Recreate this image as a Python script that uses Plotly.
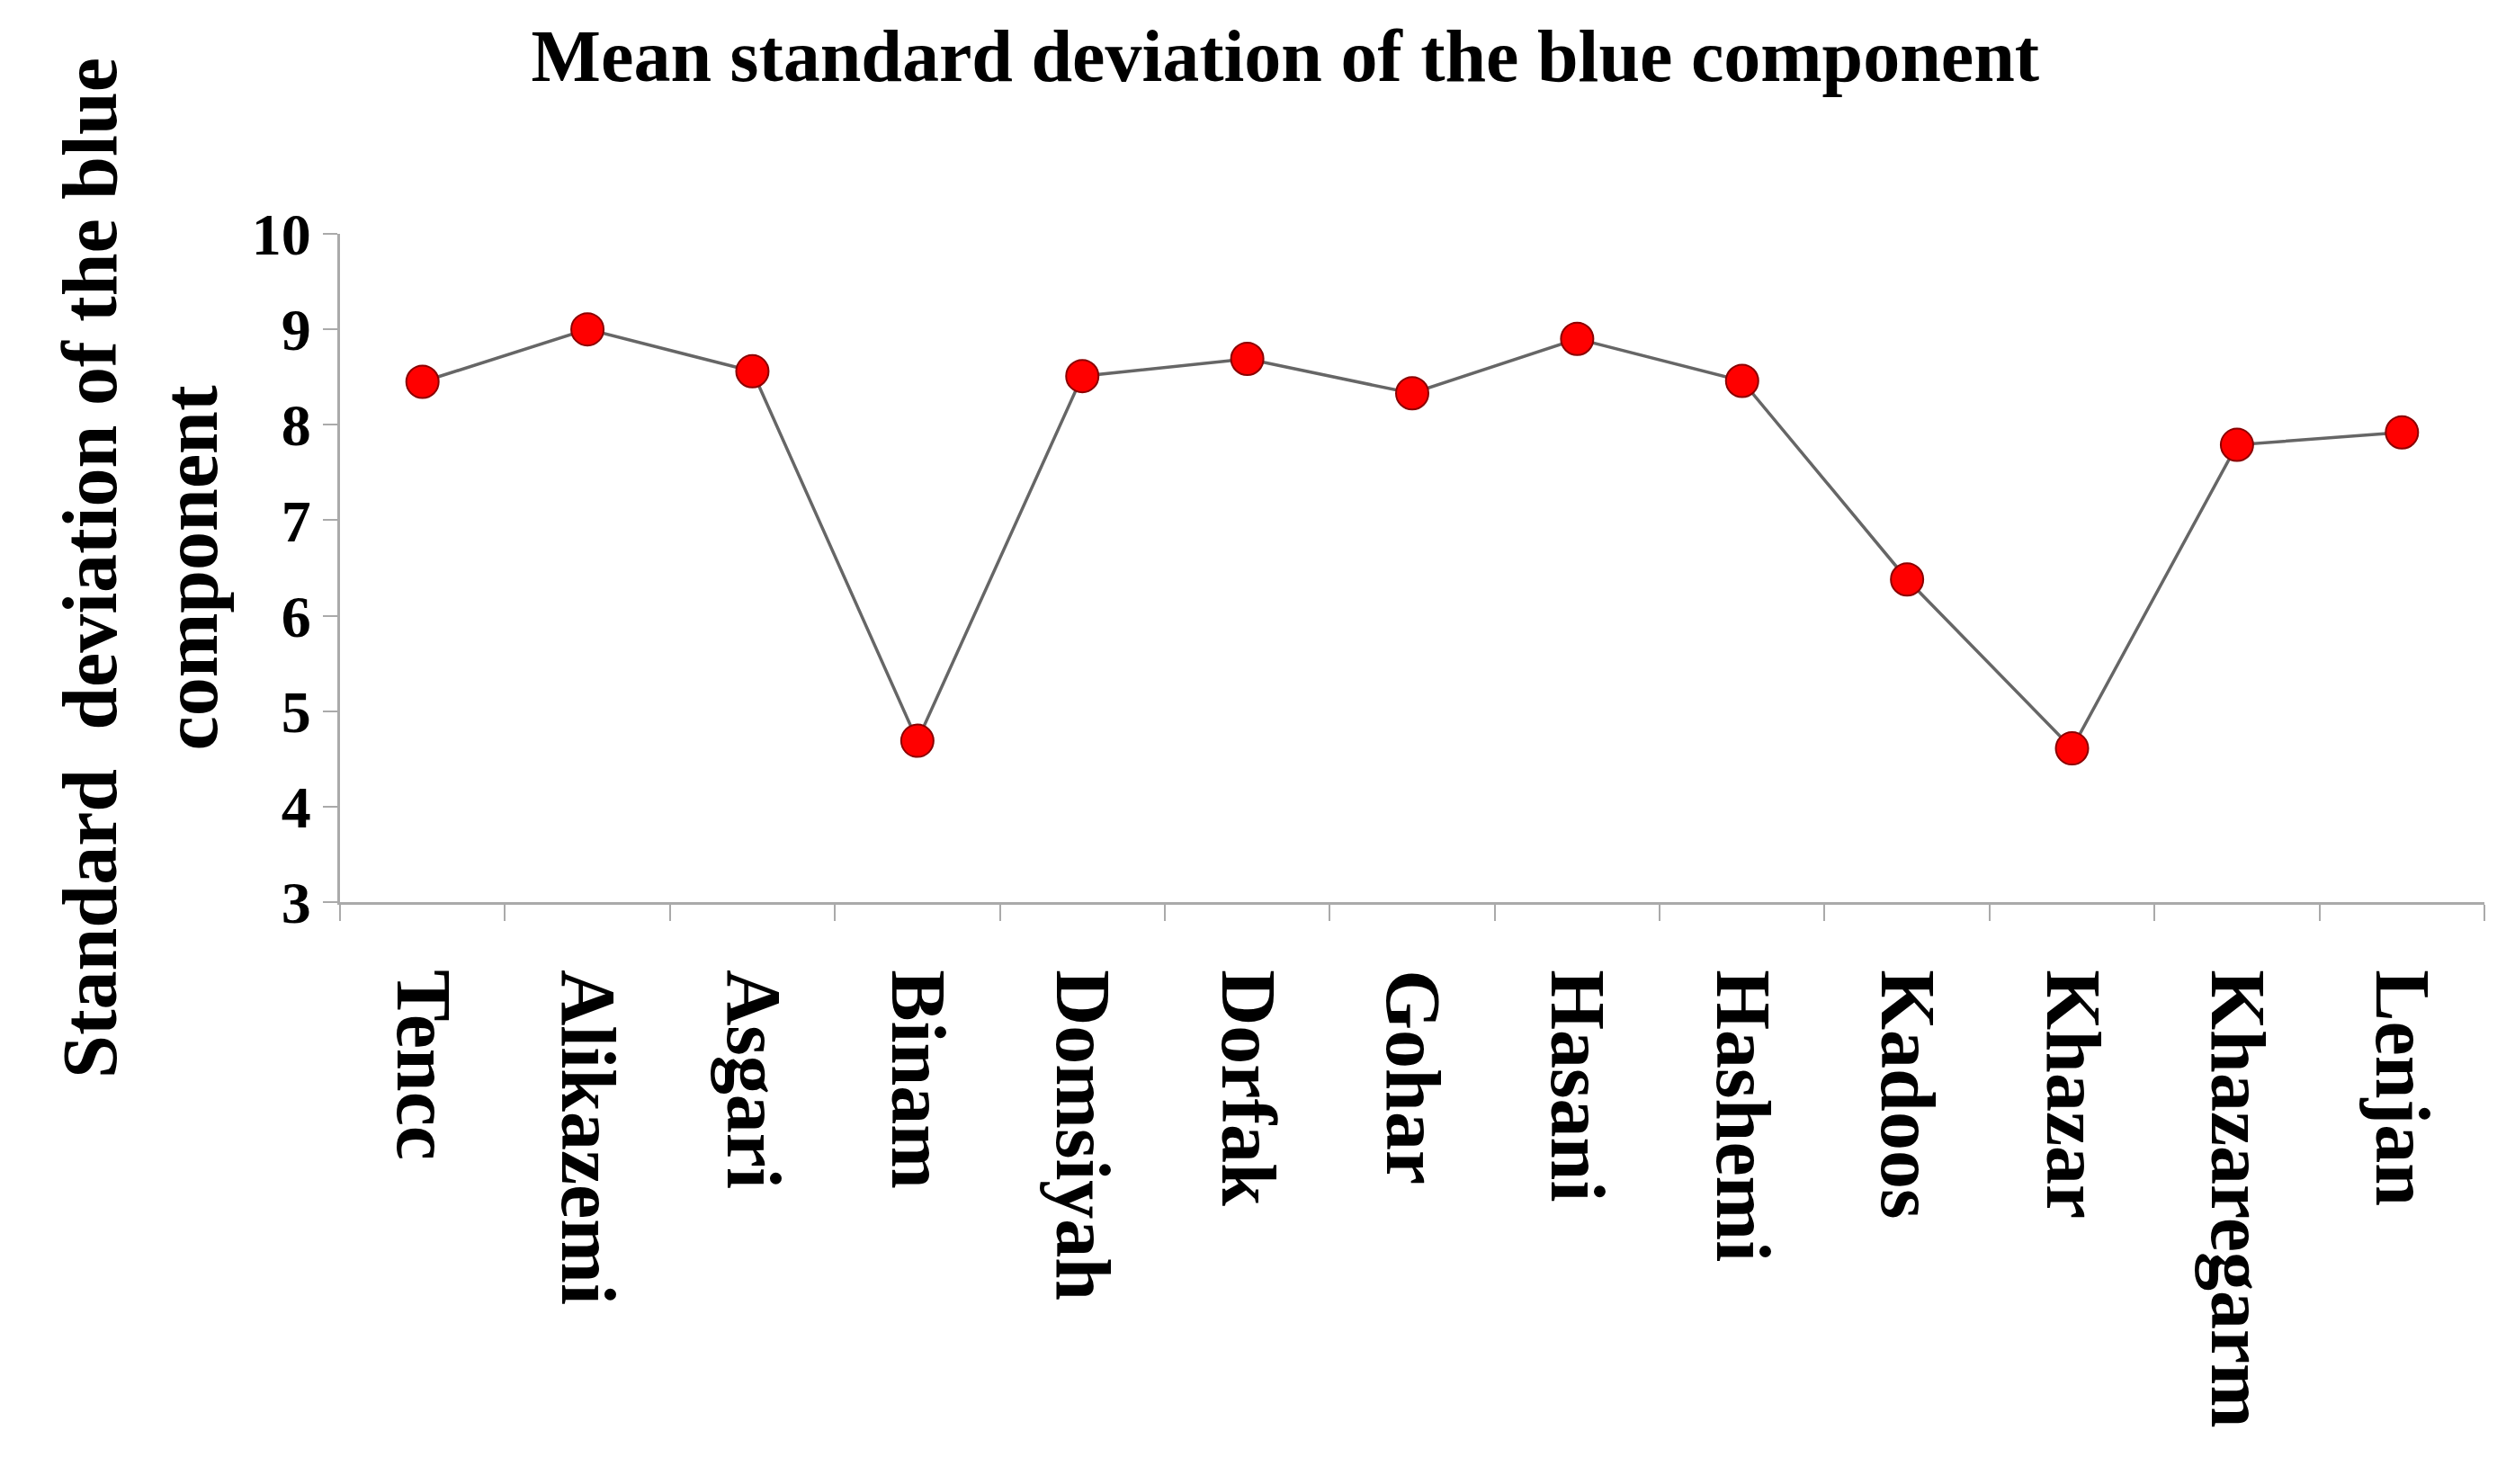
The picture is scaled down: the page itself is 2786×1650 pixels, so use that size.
import plotly.graph_objects as go

categories = ["Tencc","Alikazemi","Asgari","Binam","Domsiyah","Dorfak","Gohar",
              "Hasani","Hashemi","Kadoos","Khazar","Khazaregarm","Lenjan"]
values = [8.45, 9.0, 8.56, 4.69, 8.51, 8.69, 8.33, 8.9, 8.46, 6.38, 4.61, 7.79, 7.92]
y_ticks = [3, 4, 5, 6, 7, 8, 9, 10]

font = "Liberation Serif"
fig = go.Figure(go.Scatter(
    x=categories, y=values, mode="lines+markers",
    line=dict(color="#666666", width=3.5),
    marker=dict(color="#ff0000", size=36, line=dict(color="#8a0000", width=2)),
))
fig.update_layout(
    width=2786, height=1650, paper_bgcolor="white", plot_bgcolor="white",
    margin=dict(l=370, r=32, t=252, b=655),
    showlegend=False,
    title=dict(text="<b>Mean standard deviation of the blue component</b>",
               x=0.51, xanchor="center", y=0.985, yanchor="top",
               font=dict(family=font, size=82, color="black")),
)
fig.update_xaxes(
    type="category", range=[-0.5, 12.5], tickson="boundaries", ticks="outside", ticklen=18,
    tickcolor="#aaaaaa", tickwidth=2, showline=True, linecolor="#aaaaaa", linewidth=3,
    showgrid=False, tickangle=90, ticklabelstandoff=55,
    tickfont=dict(family=font, size=86, color="black"),
    tickvals=categories, ticktext=[f"<b>{c}</b>" for c in categories],
)
fig.update_yaxes(
    range=[3, 10], tickvals=y_ticks, ticktext=[f"<b>{v}</b>" for v in y_ticks],
    ticks="outside", ticklen=16, tickcolor="#aaaaaa", tickwidth=2,
    showline=True, linecolor="#aaaaaa", linewidth=3, showgrid=False, zeroline=False,
    tickfont=dict(family=font, size=66, color="black"),
    title=dict(text="<b>Standard  deviation of the blue<br>component</b>",
               font=dict(family=font, size=86, color="black"), standoff=10),
)
fig.write_html("out.html")
